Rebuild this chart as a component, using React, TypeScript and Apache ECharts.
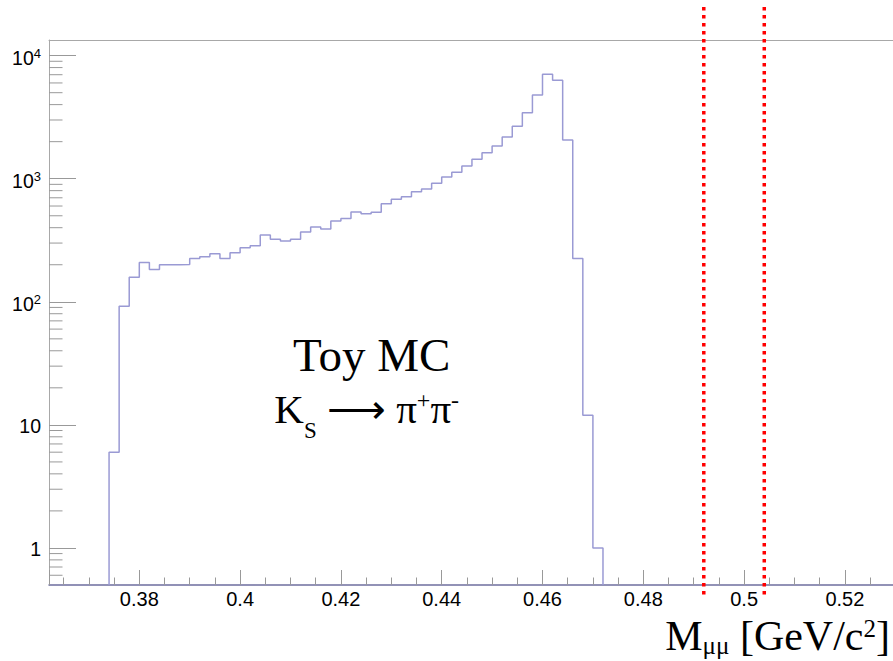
import React, { useEffect, useRef } from 'react';
import * as echarts from 'echarts';

// ---- data ----
const BIN_START = 0.374;
const BIN_WIDTH = 0.002;
const COUNTS = [
  6, 92, 158, 209, 183, 200, 200, 201, 225, 232, 246, 225, 250, 275, 285, 349,
  323, 312, 322, 369, 405, 390, 453, 476, 536, 519, 533, 626, 680, 714, 784, 825,
  918, 1032, 1127, 1268, 1438, 1627, 1845, 2183, 2668, 3442, 4791, 7060, 6310,
  2065, 225, 12, 1,
];
const CUT_LINES = [0.492, 0.504];

const X_MIN = 0.362083;
const X_MAX = 0.52974;
const Y_MIN = 0.5;
const Y_MAX = 13400;
const Y_DECADES = [0.1, 1, 10, 100, 1000];
const Y_MINOR_MULT = [2, 3, 4, 5, 6, 7, 8, 9];

const HIST_COLOR = '#9a9ad4';
const AXIS_GRAY = '#a8a8a8';
const SANS = '"Liberation Sans", Arial, sans-serif';
const SERIF = '"Liberation Serif", "Times New Roman", serif';

const edge = (i: number) => +(BIN_START + i * BIN_WIDTH).toFixed(3);

export default function App() {
  const ref = useRef<HTMLDivElement>(null);

  useEffect(() => {
    if (!ref.current) return;
    const chart = echarts.init(ref.current, undefined, { renderer: 'svg' });

    const histData: number[][] = [[edge(0), Y_MIN]];
    COUNTS.forEach((c, i) => histData.push([edge(i), c]));
    histData.push([edge(COUNTS.length), Y_MIN]);

    const minorY: number[][] = [];
    Y_DECADES.forEach((d) =>
      Y_MINOR_MULT.forEach((m) => {
        const v = +(d * m).toPrecision(6);
        if (v > Y_MIN && v < Y_MAX) minorY.push([X_MIN, v]);
      })
    );

    const option: any = {
      animation: false,
      backgroundColor: '#ffffff',
      textStyle: { fontFamily: SANS },
      grid: {
        left: 49,
        right: -1,
        top: 40,
        bottom: 76,
        containLabel: false,
        outerBoundsMode: 'none',
      },
      xAxis: [
        {
          type: 'value',
          min: X_MIN,
          max: X_MAX,
          splitNumber: 8,
          axisLine: { show: true, lineStyle: { color: '#6e6e9e', width: 1.5 } },
          axisTick: { show: true, inside: true, length: 15, lineStyle: { color: '#999', width: 1 } },
          minorTick: { show: true, splitNumber: 4, length: 7.5, lineStyle: { color: '#999', width: 1 } },
          axisLabel: {
            show: true,
            margin: 4,
            showMinLabel: false,
            showMaxLabel: false,
            color: '#000',
            fontFamily: SANS,
            fontSize: 20,
            formatter: (v: number) => String(+v.toFixed(3)),
          },
          splitLine: { show: false },
          minorSplitLine: { show: false },
        },
        {
          type: 'value',
          position: 'top',
          min: X_MIN,
          max: X_MAX,
          axisLine: { show: true, lineStyle: { color: AXIS_GRAY, width: 1 } },
          axisTick: { show: false },
          axisLabel: { show: false },
          splitLine: { show: false },
        },
      ],
      yAxis: {
        type: 'log',
        logBase: 10,
        min: Y_MIN,
        max: Y_MAX,
        axisLine: { show: true, lineStyle: { color: AXIS_GRAY, width: 1 } },
        axisTick: { show: true, inside: true, length: 27, lineStyle: { color: '#999', width: 1 } },
        splitLine: { show: false },
        axisLabel: {
          show: true,
          margin: 8,
          showMinLabel: false,
          showMaxLabel: false,
          color: '#000',
          formatter: (v: number) => {
            const k = Math.round(Math.log10(v));
            if (k === 0) return '{p|1}';
            if (k === 1) return '{p|10}';
            return `{b|10}{s|${k}}`;
          },
          rich: {
            p: { fontSize: 19.5, fontFamily: SANS, color: '#000', padding: [3, 0, 0, 0] },
            b: { fontSize: 19.5, fontFamily: SANS, color: '#000', padding: [5, 0, 0, 0] },
            s: { fontSize: 13, fontFamily: SANS, color: '#000', padding: [0, 0, 5, 0] },
          },
        },
      },
      series: [
        {
          type: 'line',
          name: 'Toy MC',
          data: histData,
          step: 'end',
          showSymbol: false,
          symbol: 'none',
          lineStyle: { color: HIST_COLOR, width: 1.5 },
          itemStyle: { color: HIST_COLOR },
          z: 3,
        },
        {
          type: 'custom',
          name: 'minorY',
          data: minorY,
          encode: { x: 0, y: 1 },
          silent: true,
          z: 2,
          renderItem: (params: any, api: any) => {
            const p = api.coord([api.value(0), api.value(1)]);
            return {
              type: 'line',
              shape: { x1: p[0], y1: p[1], x2: p[0] + 13.5, y2: p[1] },
              style: { stroke: '#999', lineWidth: 1 },
            };
          },
        },
        {
          type: 'custom',
          name: 'cuts',
          data: CUT_LINES.map((v) => [v, Y_MIN]),
          encode: { x: 0, y: 1 },
          silent: true,
          clip: false,
          z: 5,
          renderItem: (params: any, api: any) => {
            const p = api.coord([api.value(0), api.value(1)]);
            const cs = params.coordSys;
            return {
              type: 'line',
              shape: { x1: p[0], y1: cs.y - 33, x2: p[0], y2: cs.y + cs.height + 12 },
              style: { stroke: '#ff0000', lineWidth: 3.5, lineDash: [3.4, 4.6], lineCap: 'butt' },
            };
          },
        },
      ],
      graphic: [
        {
          type: 'text',
          x: 371.7,
          y: 354.5,
          style: {
            text: 'Toy MC',
            fontSize: 47,
            fontFamily: SERIF,
            fill: '#000',
            textAlign: 'center',
            textVerticalAlign: 'middle',
          },
        },
        {
          type: 'text',
          x: 366.7,
          y: 409.2,
          style: {
            text: '{m|K}{sub|S}{m| \u27F6 \u03C0}{sup|+}{m|\u03C0}{sup|-}',
            fill: '#000',
            textAlign: 'center',
            textVerticalAlign: 'middle',
            rich: {
              m: { fontSize: 41, fontFamily: SERIF, fill: '#000' },
              sub: { fontSize: 23, fontFamily: SERIF, fill: '#000', padding: [42, 0, 0, 0] },
              sup: { fontSize: 24, fontFamily: SERIF, fill: '#000', padding: [0, 0, 19, 0] },
            },
          },
        },
        {
          type: 'text',
          x: 890,
          y: 636.2,
          style: {
            text: '{m|M}{sub|\u03BC\u03BC}{m| [GeV/c}{sup|2}{m|]}',
            fill: '#000',
            textAlign: 'right',
            textVerticalAlign: 'middle',
            rich: {
              m: { fontSize: 42, fontFamily: SERIF, fill: '#000' },
              sub: { fontSize: 25, fontFamily: SERIF, fill: '#000', padding: [19, 0, 0, 0] },
              sup: { fontSize: 25, fontFamily: SERIF, fill: '#000', padding: [0, 0, 15, 0] },
            },
          },
        },
      ],
    };

    chart.setOption(option);
    return () => chart.dispose();
  }, []);

  return (
    <div
      ref={ref}
      style={{ position: 'absolute', left: 0, top: 0, width: 893, height: 661 }}
    />
  );
}
